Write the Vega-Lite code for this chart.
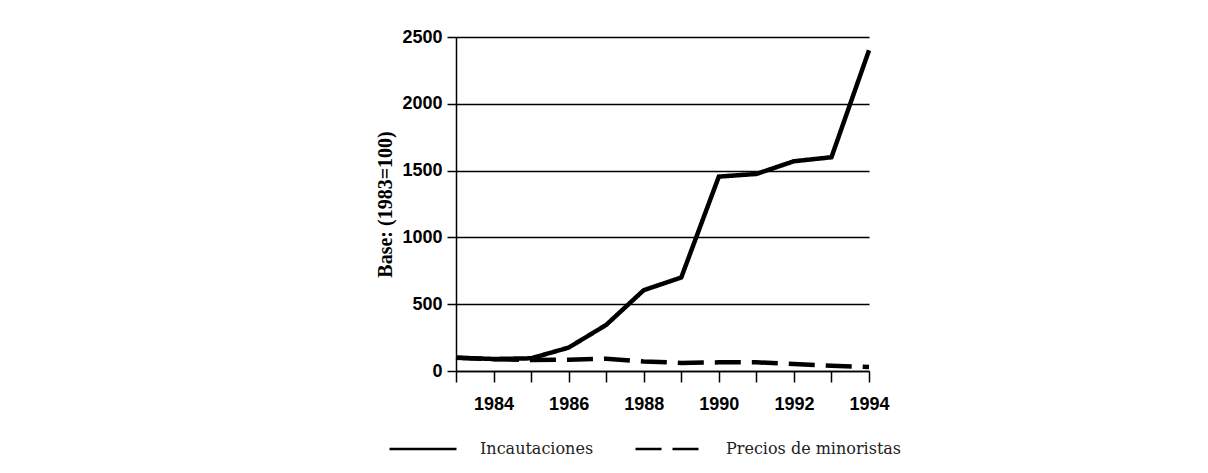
{
  "$schema": "https://vega.github.io/schema/vega-lite/v6.json",
  "width": 413,
  "height": 334,
  "autosize": {"type": "none"},
  "padding": {"left": 456, "top": 37, "right": 339, "bottom": 102},
  "background": "white",
  "config": {"view": {"stroke": null}},
  "data": {
    "values": [
      {"anio": 1983, "serie": "Incautaciones", "valor": 100},
      {"anio": 1984, "serie": "Incautaciones", "valor": 90},
      {"anio": 1985, "serie": "Incautaciones", "valor": 95},
      {"anio": 1986, "serie": "Incautaciones", "valor": 175},
      {"anio": 1987, "serie": "Incautaciones", "valor": 345},
      {"anio": 1988, "serie": "Incautaciones", "valor": 605},
      {"anio": 1989, "serie": "Incautaciones", "valor": 700},
      {"anio": 1990, "serie": "Incautaciones", "valor": 1455},
      {"anio": 1991, "serie": "Incautaciones", "valor": 1475},
      {"anio": 1992, "serie": "Incautaciones", "valor": 1570},
      {"anio": 1993, "serie": "Incautaciones", "valor": 1600},
      {"anio": 1994, "serie": "Incautaciones", "valor": 2400},
      {"anio": 1983, "serie": "Precios de minoristas", "valor": 100},
      {"anio": 1984, "serie": "Precios de minoristas", "valor": 88},
      {"anio": 1985, "serie": "Precios de minoristas", "valor": 82},
      {"anio": 1986, "serie": "Precios de minoristas", "valor": 85},
      {"anio": 1987, "serie": "Precios de minoristas", "valor": 92},
      {"anio": 1988, "serie": "Precios de minoristas", "valor": 72},
      {"anio": 1989, "serie": "Precios de minoristas", "valor": 60},
      {"anio": 1990, "serie": "Precios de minoristas", "valor": 65},
      {"anio": 1991, "serie": "Precios de minoristas", "valor": 65},
      {"anio": 1992, "serie": "Precios de minoristas", "valor": 52},
      {"anio": 1993, "serie": "Precios de minoristas", "valor": 40},
      {"anio": 1994, "serie": "Precios de minoristas", "valor": 30}
    ]
  },
  "mark": {"type": "line", "strokeWidth": 4.5, "color": "black", "strokeCap": "butt"},
  "encoding": {
    "x": {
      "field": "anio",
      "type": "quantitative",
      "scale": {"domain": [1983, 1994], "nice": false, "zero": false},
      "axis": {
        "title": null,
        "values": [1983, 1984, 1985, 1986, 1987, 1988, 1989, 1990, 1991, 1992, 1993, 1994],
        "format": "d",
        "labelExpr": "datum.value % 2 === 0 ? datum.label : ''",
        "labelOverlap": false,
        "labelFlush": false,
        "grid": false,
        "domainColor": "black",
        "domainWidth": 1.5,
        "tickColor": "black",
        "tickWidth": 1.5,
        "tickSize": 11,
        "labelPadding": 13,
        "labelFont": "Liberation Sans",
        "labelFontWeight": "bold",
        "labelFontSize": 18,
        "labelColor": "black"
      }
    },
    "y": {
      "field": "valor",
      "type": "quantitative",
      "scale": {"domain": [0, 2500], "nice": false},
      "axis": {
        "title": "Base: (1983=100)",
        "titleFont": "Liberation Serif",
        "titleFontWeight": "bold",
        "titleFontSize": 20,
        "titleColor": "black",
        "titlePadding": 6,
        "values": [0, 500, 1000, 1500, 2000, 2500],
        "format": "d",
        "labelFlush": false,
        "grid": true,
        "gridColor": "black",
        "gridWidth": 1.5,
        "gridOpacity": 1,
        "domainColor": "black",
        "domainWidth": 1.5,
        "tickColor": "black",
        "tickWidth": 1.5,
        "tickSize": 9,
        "labelPadding": 5,
        "labelFont": "Liberation Sans",
        "labelFontWeight": "bold",
        "labelFontSize": 18,
        "labelColor": "black"
      }
    },
    "strokeDash": {
      "field": "serie",
      "type": "nominal",
      "scale": {"domain": ["Incautaciones", "Precios de minoristas"], "range": [[1, 0], [26, 11]]},
      "legend": {
        "title": null,
        "orient": "none",
        "legendX": -68,
        "legendY": 377,
        "direction": "horizontal",
        "padding": 0,
        "symbolType": "stroke",
        "symbolSize": 4489,
        "symbolStrokeWidth": 2.5,
        "symbolStrokeColor": "black",
        "labelFont": "DejaVu Serif",
        "labelFontSize": 16,
        "labelColor": "#222",
        "labelOffset": 22,
        "columnPadding": 36,
        "labelLimit": 300
      }
    }
  }
}
